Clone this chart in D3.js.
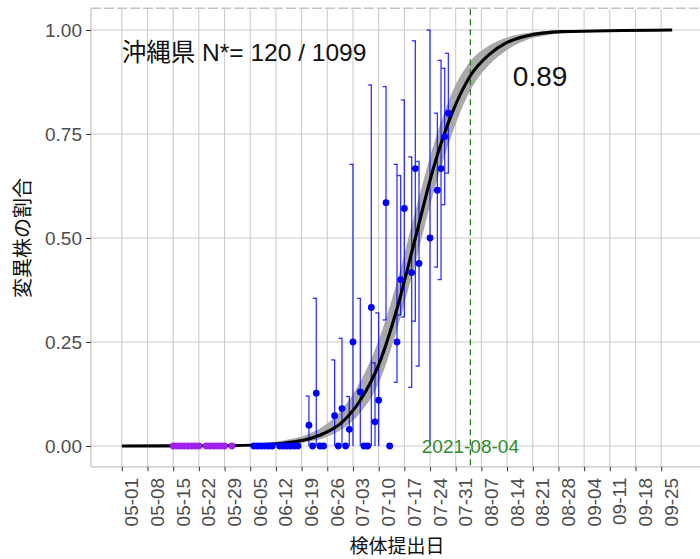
<!DOCTYPE html>
<html>
<head>
<meta charset="utf-8">
<script src="https://cdn.jsdelivr.net/npm/d3@7"></script>
<style>
  body { margin: 0; background: #fff; }
  svg { font-family: "Liberation Sans", Arial, "Noto Sans CJK JP", sans-serif; }
</style>
</head>
<body>
<script>
// x tick labels (weekly)
var tickLabels = ['05-01','05-08','05-15','05-22','05-29','06-05','06-12','06-19','06-26','07-03',
  '07-10','07-17','07-24','07-31','08-07','08-14','08-21','08-28','09-04','09-11','09-18','09-25'];
var yTicks = [0, 0.25, 0.5, 0.75, 1];

// observed proportions with error bars
var ptDates = ['06-21','06-23','06-28','06-30','07-02','07-03','07-05','07-08','07-09','07-10','07-12',
  '07-15','07-16','07-17','07-19','07-20','07-21','07-24','07-26','07-27','07-28','07-29'];
var ptVals = [0.05,0.127,0.073,0.09,0.04,0.25,0.13,0.333,0.058,0.11,0.585,
  0.25,0.40,0.571,0.417,0.667,0.439,0.5,0.615,0.667,0.744,0.80];
var ptLo = [0,0,0,0,0,0,0,0,0,0,0.303,
  0.153,0.315,0.31,0.141,0.30,0.192,0,0.43,0.40,0.58,0.656];
var ptHi = [0.12,0.355,0.207,0.259,0.119,0.677,0.355,0.868,0.20,0.32,0.864,
  0.677,0.65,0.832,0.695,0.974,0.684,1.0,0.80,0.927,0.908,0.944];

// zero-count days
var zeroDates = ['06-06','06-07','06-08','06-09','06-10','06-11','06-13','06-14','06-15','06-16','06-17','06-18',
  '06-22','06-24','06-25','06-29','07-01','07-06','07-07','07-13'];
var purpleDates = ['05-15','05-16','05-17','05-18','05-19','05-20','05-21','05-22',
  '05-24','05-25','05-26','05-27','05-28','05-29','05-31'];

// fitted curve and its band
var curveDates = ['05-01','05-31','06-10','06-15','06-20','06-25','06-30','07-05','07-10','07-15',
  '07-20','07-25','07-30','08-04','08-09','08-14','08-19','08-29','09-28'];
var curveVals = [0,0.001,0.004,0.008,0.015,0.03,0.057,0.11,0.195,0.33,
  0.50,0.67,0.80,0.89,0.94,0.97,0.985,0.996,1.0];
var bandDates = ['06-05','06-10','06-15','06-20','06-25','06-30','07-05','07-10','07-15','07-20',
  '07-25','07-30','08-04','08-09','08-14','08-19','08-24','08-29'];
var bandLo = [0.001,0.002,0.004,0.009,0.019,0.04,0.08,0.15,0.28,0.44,
  0.61,0.75,0.855,0.915,0.952,0.975,0.986,0.993];
var bandHi = [0.004,0.008,0.015,0.026,0.048,0.088,0.155,0.255,0.395,0.565,
  0.725,0.85,0.925,0.962,0.982,0.992,0.997,0.999];

var markDate = '08-04';

function pd(s) {
  var p = s.split('-');
  return new Date(Date.UTC(2021, +p[0] - 1, +p[1]));
}
var day0 = pd('05-01').getTime();
function dayOff(n) { return new Date(day0 + n * 864e5); }

var width = 700, height = 559;
var panel = { left: 91, right: 703, top: 9.2, bottom: 466.8 };

var x = d3.scaleUtc()
    .domain([dayOff(-8.4), dayOff(158.4)])
    .range([panel.left, panel.right]);
var y = d3.scaleLinear()
    .domain([-0.05, 1.05])
    .range([panel.bottom, panel.top]);

var svg = d3.select('body').append('svg')
    .attr('width', width)
    .attr('height', height);

// grid
svg.append('g').selectAll('line')
    .data(yTicks)
  .enter().append('line')
    .attr('x1', panel.left).attr('x2', panel.right)
    .attr('y1', function(d) { return y(d); })
    .attr('y2', function(d) { return y(d); })
    .attr('stroke', '#cccccc').attr('stroke-width', 1.1);
svg.append('g').selectAll('line')
    .data(tickLabels)
  .enter().append('line')
    .attr('x1', function(d) { return x(pd(d)); })
    .attr('x2', function(d) { return x(pd(d)); })
    .attr('y1', panel.top).attr('y2', panel.bottom)
    .attr('stroke', '#cccccc').attr('stroke-width', 1.1);

// panel border
svg.append('line')
    .attr('x1', panel.left).attr('x2', panel.right)
    .attr('y1', panel.top - 1).attr('y2', panel.top - 1)
    .attr('stroke', '#c4c4c4').attr('stroke-width', 1.6)
    .attr('stroke-dasharray', '10,3');
svg.append('line')
    .attr('x1', panel.left).attr('x2', panel.left)
    .attr('y1', panel.top - 1).attr('y2', panel.bottom)
    .attr('stroke', '#c4c4c4').attr('stroke-width', 1.3);
svg.append('line')
    .attr('x1', panel.left).attr('x2', panel.right)
    .attr('y1', panel.bottom).attr('y2', panel.bottom)
    .attr('stroke', '#c4c4c4').attr('stroke-width', 1.3);

// band
var band = bandDates.map(function(d, i) { return { d: pd(d), lo: bandLo[i], hi: bandHi[i] }; });
svg.append('path')
    .datum(band)
    .attr('fill', '#a9a9a9')
    .attr('d', d3.area()
        .curve(d3.curveMonotoneX)
        .x(function(d) { return x(d.d); })
        .y0(function(d) { return y(d.lo); })
        .y1(function(d) { return y(d.hi); }));

// green marker line
svg.append('line')
    .attr('x1', x(pd(markDate))).attr('x2', x(pd(markDate)))
    .attr('y1', panel.top).attr('y2', panel.bottom)
    .attr('stroke', '#1f7a1f').attr('stroke-width', 1.3)
    .attr('stroke-dasharray', '6,4');

// error bars
var pts = ptDates.map(function(d, i) { return { d: pd(d), v: ptVals[i], lo: ptLo[i], hi: ptHi[i] }; });
var eb = svg.append('g')
    .attr('stroke', '#0000ff').attr('stroke-width', 1.3).attr('stroke-opacity', 0.8).attr('fill', 'none');
eb.selectAll('.bar')
    .data(pts)
  .enter().append('line')
    .attr('x1', function(d) { return x(d.d); })
    .attr('x2', function(d) { return x(d.d); })
    .attr('y1', function(d) { return y(d.lo); })
    .attr('y2', function(d) { return y(d.hi); });
eb.selectAll('.capHi')
    .data(pts)
  .enter().append('line')
    .attr('x1', function(d) { return x(d.d) - 3.5; })
    .attr('x2', function(d) { return x(d.d) + 0.5; })
    .attr('y1', function(d) { return y(d.hi); })
    .attr('y2', function(d) { return y(d.hi); });
eb.selectAll('.capLo')
    .data(pts.filter(function(d) { return d.lo > 0; }))
  .enter().append('line')
    .attr('x1', function(d) { return x(d.d) - 3.5; })
    .attr('x2', function(d) { return x(d.d) + 0.5; })
    .attr('y1', function(d) { return y(d.lo); })
    .attr('y2', function(d) { return y(d.lo); });

// fitted curve
var curve = curveDates.map(function(d, i) { return { d: pd(d), v: curveVals[i] }; });
svg.append('path')
    .datum(curve)
    .attr('fill', 'none')
    .attr('stroke', '#000')
    .attr('stroke-width', 3.1)
    .attr('d', d3.line()
        .curve(d3.curveMonotoneX)
        .x(function(d) { return x(d.d); })
        .y(function(d) { return y(d.v); }));

// points
svg.append('g').selectAll('circle')
    .data(purpleDates)
  .enter().append('circle')
    .attr('cx', function(d) { return x(pd(d)); })
    .attr('cy', y(0))
    .attr('r', 3.4)
    .attr('fill', '#a020f0');
svg.append('g').selectAll('circle')
    .data(zeroDates)
  .enter().append('circle')
    .attr('cx', function(d) { return x(pd(d)); })
    .attr('cy', y(0))
    .attr('r', 3.4)
    .attr('fill', '#0000ff');
svg.append('g').selectAll('circle')
    .data(pts)
  .enter().append('circle')
    .attr('cx', function(d) { return x(d.d); })
    .attr('cy', function(d) { return y(d.v); })
    .attr('r', 3.4)
    .attr('fill', '#0000ff');

// annotations
svg.append('text')
    .attr('x', x(pd('05-01')))
    .attr('y', y(0.925))
    .attr('font-size', 24.5)
    .attr('fill', '#111')
    .text('沖縄県 N*= 120 / 1099');
svg.append('text')
    .attr('x', x(pd('08-23')))
    .attr('y', y(0.865))
    .attr('font-size', 28)
    .attr('text-anchor', 'middle')
    .attr('fill', '#111')
    .text('0.89');
svg.append('text')
    .attr('x', x(pd(markDate)))
    .attr('y', y(0))
    .attr('dy', '0.35em')
    .attr('font-size', 19)
    .attr('text-anchor', 'middle')
    .attr('fill', '#2e8b2e')
    .text('2021-' + markDate);

// axes
var xAxis = d3.axisBottom(x)
    .tickValues(tickLabels.map(pd))
    .tickFormat(d3.utcFormat('%m-%d'))
    .tickSize(4.5);
var gx = svg.append('g')
    .attr('transform', 'translate(0,' + panel.bottom + ')')
    .call(xAxis);
gx.select('.domain').remove();
gx.selectAll('line').attr('stroke', '#333');
gx.selectAll('text')
    .attr('x', 0).attr('y', 0).attr('dy', 0)
    .attr('transform', 'translate(16,11) rotate(-90)')
    .style('text-anchor', 'end')
    .attr('font-size', 19)
    .attr('font-family', null)
    .attr('fill', '#4d4d4d');

var yAxis = d3.axisLeft(y)
    .tickValues(yTicks)
    .tickFormat(d3.format('.2f'))
    .tickSize(5)
    .tickPadding(4);
var gy = svg.append('g')
    .attr('transform', 'translate(' + panel.left + ',0)')
    .call(yAxis);
gy.select('.domain').remove();
gy.selectAll('line').attr('stroke', '#333');
gy.selectAll('text')
    .attr('font-size', 19)
    .attr('font-family', null)
    .attr('fill', '#4d4d4d');

// axis titles
svg.append('text')
    .attr('x', (panel.left + panel.right) / 2)
    .attr('y', 553)
    .attr('text-anchor', 'middle')
    .attr('font-size', 19)
    .attr('fill', '#111')
    .text('検体提出日');
svg.append('text')
    .attr('transform', 'translate(30,' + (panel.top + panel.bottom) / 2 + ') rotate(-90)')
    .attr('text-anchor', 'middle')
    .attr('font-size', 20)
    .attr('fill', '#111')
    .text('変異株の割合');
</script>
</body>
</html>
